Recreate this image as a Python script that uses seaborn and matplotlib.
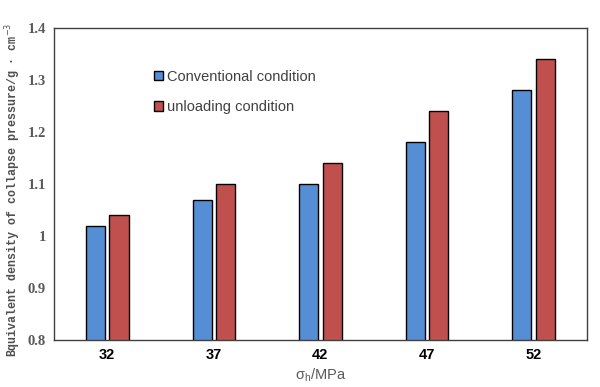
import pandas as pd
import numpy as np
import matplotlib.pyplot as plt
import seaborn as sns

# Data
stress = ['32', '37', '42', '47', '52']
conventional = [1.02, 1.07, 1.10, 1.18, 1.28]
unloading = [1.04, 1.10, 1.14, 1.24, 1.34]
series_names = ['Conventional condition', 'unloading condition']

df = pd.DataFrame({
    'stress': stress * 2,
    'value': conventional + unloading,
    'condition': [series_names[0]] * len(stress) + [series_names[1]] * len(stress),
})

sns.set_style('white')
plt.rcParams['font.family'] = ['Liberation Sans', 'DejaVu Sans']

fig = plt.figure(figsize=(6, 3.87), dpi=100)
ax = fig.add_axes([0.09, 0.1214, 0.888, 0.8062])

palette = {series_names[0]: '#558ED5', series_names[1]: '#C0504D'}
sns.barplot(data=df, x='stress', y='value', hue='condition', palette=palette,
            width=0.44, gap=0.18, edgecolor='black', linewidth=1.0,
            saturation=1, ax=ax)

ax.set_ylim(0.8, 1.4)
ax.set_yticks([0.8, 0.9, 1.0, 1.1, 1.2, 1.3, 1.4])
ax.set_yticklabels(['0.8', '0.9', '1', '1.1', '1.2', '1.3', '1.4'],
                   fontfamily='Liberation Serif', fontweight='bold',
                   fontsize=10.5, color='#595959')
ax.set_xticks(range(len(stress)))
ax.set_xticklabels(stress, fontweight='bold', fontsize=10.5, color='black')
ax.tick_params(axis='both', length=0, pad=6)

for s in ax.spines.values():
    s.set_visible(True)
    s.set_color('#404040')
    s.set_linewidth(1.0)

ax.set_xlabel(r'$\mathregular{\sigma_h}$/MPa', fontsize=10.5, color='#595959', labelpad=3)
ax.set_ylabel('Bquivalent density of collapse pressure/g · cm$^{-3}$',
              fontfamily='Liberation Mono', fontweight='bold', fontsize=8.4,
              color='#505050')
ax.yaxis.set_label_coords(-0.058, 0.48)

leg = ax.legend(loc='upper left', bbox_to_anchor=(0.176, 0.885), frameon=False,
                fontsize=10.5, handlelength=0.65, handleheight=0.65,
                handletextpad=0.3, labelspacing=1.1, borderaxespad=0)
for t in leg.get_texts():
    t.set_color('#404040')

fig.savefig('out.png', dpi=100)
